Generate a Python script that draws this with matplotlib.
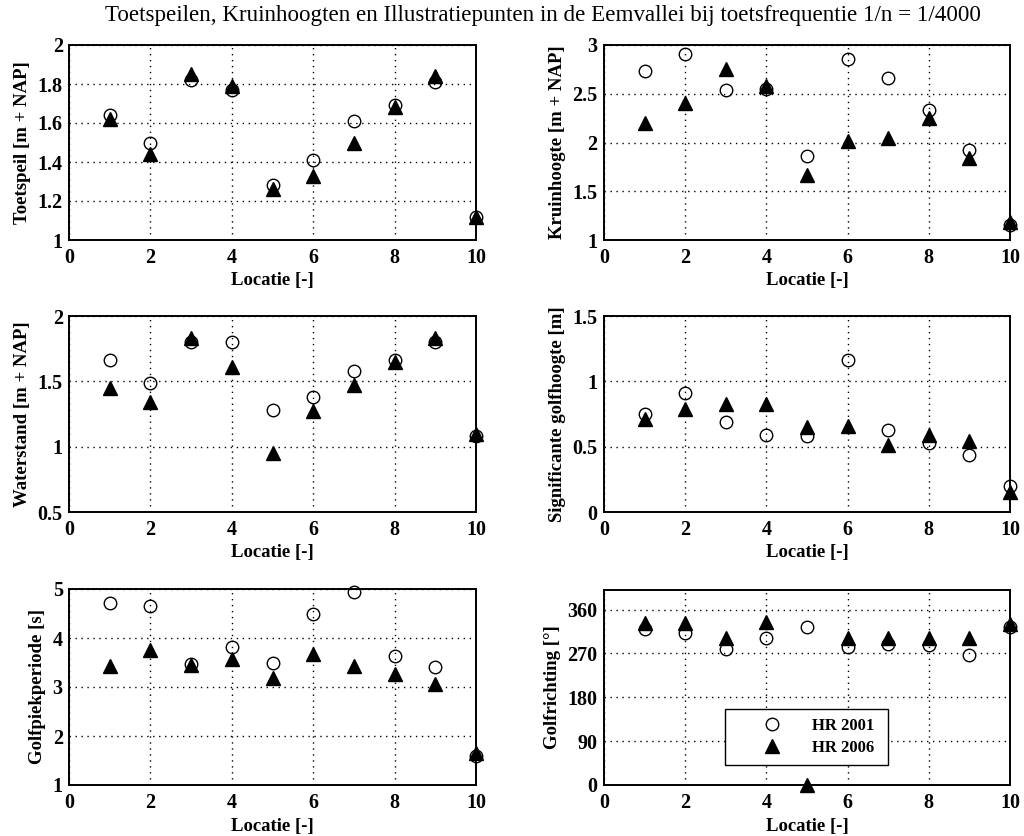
import matplotlib
matplotlib.use("Agg")
import matplotlib.pyplot as plt
import numpy as np

plt.rcParams['font.family'] = ['Liberation Serif', 'DejaVu Serif']

locatie = [1, 2, 3, 4, 5, 6, 7, 8, 9, 10]

toetspeil_2001 = [1.64, 1.50, 1.82, 1.77, 1.28, 1.41, 1.61, 1.69, 1.81, 1.12]
toetspeil_2006 = [1.62, 1.44, 1.85, 1.79, 1.26, 1.33, 1.50, 1.68, 1.84, 1.12]

kruin_2001 = [2.73, 2.91, 2.54, 2.55, 1.86, 2.86, 2.66, 2.33, 1.92, 1.15]
kruin_2006 = [2.20, 2.41, 2.75, 2.58, 1.67, 2.02, 2.05, 2.25, 1.84, 1.18]

waterstand_2001 = [1.66, 1.49, 1.80, 1.80, 1.28, 1.38, 1.58, 1.66, 1.80, 1.08]
waterstand_2006 = [1.45, 1.34, 1.83, 1.61, 0.95, 1.27, 1.47, 1.65, 1.83, 1.10]

hs_2001 = [0.75, 0.91, 0.69, 0.59, 0.58, 1.16, 0.63, 0.53, 0.44, 0.20]
hs_2006 = [0.71, 0.79, 0.83, 0.83, 0.65, 0.66, 0.51, 0.59, 0.54, 0.15]

tp_2001 = [4.72, 4.65, 3.47, 3.81, 3.49, 4.48, 4.93, 3.64, 3.41, 1.59]
tp_2006 = [3.43, 3.76, 3.44, 3.57, 3.18, 3.68, 3.42, 3.27, 3.06, 1.65]

richting_2001 = [321, 312, 278, 302, 324, 283, 290, 288, 266, 324]
richting_2006 = [333, 333, 302, 335, 0, 302, 302, 302, 302, 331]

ylabels = ['Toetspeil [m + NAP]', 'Kruinhoogte [m + NAP]',
           'Waterstand [m + NAP]', 'Significante golfhoogte [m]',
           'Golfpiekperiode [s]', 'Golfrichting [°]']
ylims = [(1, 2), (1, 3), (0.5, 2), (0, 1.5), (1, 5), (0, 400)]
yticks = [[1, 1.2, 1.4, 1.6, 1.8, 2], [1, 1.5, 2, 2.5, 3], [0.5, 1, 1.5, 2],
          [0, 0.5, 1, 1.5], [1, 2, 3, 4, 5], [0, 90, 180, 270, 360]]
yticklabels = [['1', '1.2', '1.4', '1.6', '1.8', '2'], ['1', '1.5', '2', '2.5', '3'],
               ['0.5', '1', '1.5', '2'], ['0', '0.5', '1', '1.5'],
               ['1', '2', '3', '4', '5'], ['0', '90', '180', '270', '360']]
data = [(toetspeil_2001, toetspeil_2006), (kruin_2001, kruin_2006),
        (waterstand_2001, waterstand_2006), (hs_2001, hs_2006),
        (tp_2001, tp_2006), (richting_2001, richting_2006)]
xticks = [0, 2, 4, 6, 8, 10]

W, H = 1024, 836
fig = plt.figure(figsize=(W / 100, H / 100), dpi=100)

boxes = [(69, 476, 45, 240), (604, 1010, 45, 240),
         (69, 476, 316, 512), (604, 1010, 316, 512),
         (69, 476, 589, 785), (604, 1010, 590, 785)]

for i, (l, r, t, b) in enumerate(boxes):
    ax = fig.add_axes([l / W, 1 - b / H, (r - l) / W, (b - t) / H])
    d01, d06 = data[i]
    ax.plot(locatie, d01, linestyle='none', marker='o', markersize=9,
            markerfacecolor='none', markeredgecolor='black', markeredgewidth=1.0,
            label='HR 2001', zorder=3, clip_on=False)
    ax.plot(locatie, d06, linestyle='none', marker='^', markersize=10.5,
            markerfacecolor='black', markeredgecolor='black',
            label='HR 2006', zorder=4, clip_on=False)
    ax.set_xlim(0, 10)
    ax.set_ylim(*ylims[i])
    ax.set_xticks(xticks)
    ax.set_xticklabels([str(x) for x in xticks])
    ax.set_yticks(yticks[i])
    ax.set_yticklabels(yticklabels[i])
    ax.grid(True, linestyle=(0, (1, 3.3)), color='black', linewidth=1.0)
    ax.set_axisbelow(True)
    ax.tick_params(length=0, labelsize=14.5)
    ax.tick_params(axis='x', pad=6)
    ax.tick_params(axis='y', pad=4.5)
    for lab in ax.get_xticklabels() + ax.get_yticklabels():
        lab.set_fontweight('bold')
    for sp in ax.spines.values():
        sp.set_linewidth(1.4)
    ax.set_xlabel('Locatie [-]', fontsize=13.5, fontweight='bold', labelpad=3)
    ax.set_ylabel(ylabels[i], fontsize=13.5, fontweight='bold', labelpad=5)
    if i == 5:
        leg = ax.legend(loc='lower left', bbox_to_anchor=(0.298, 0.103, 0.402, 0.287),
                        mode='expand', borderaxespad=0, fancybox=False, framealpha=1,
                        edgecolor='black', prop={'weight': 'bold', 'size': 12},
                        handlelength=4.6, handletextpad=0.05, borderpad=0.55,
                        labelspacing=0.35, alignment='left')
        leg.get_frame().set_linewidth(1.0)

fig.text(543 / W, 1 - 16 / H, 'Toetspeilen, Kruinhoogten en Illustratiepunten in de Eemvallei bij toetsfrequentie 1/n = 1/4000',
         ha='center', va='center', fontsize=16.6)

fig.savefig('out.png', dpi=100, facecolor='white')
